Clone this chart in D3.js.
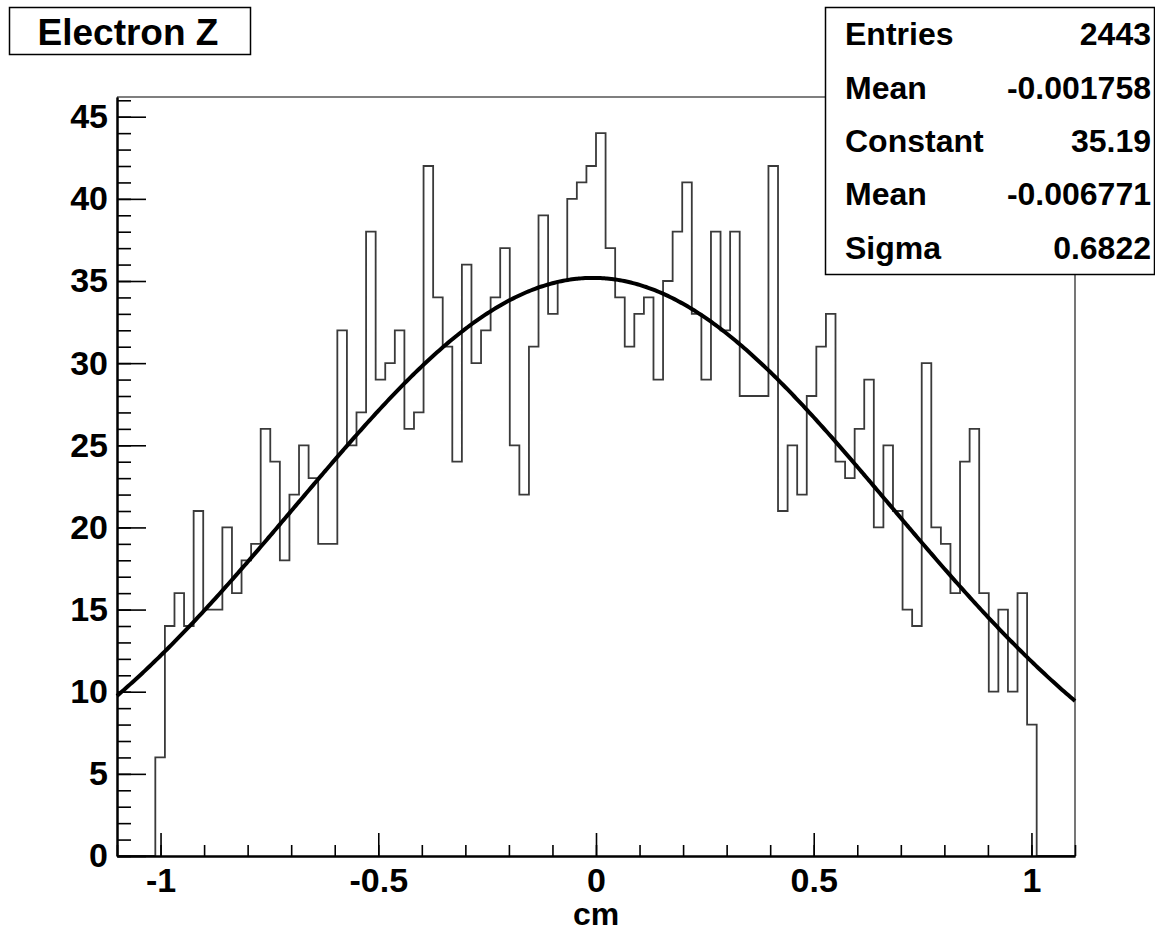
<!DOCTYPE html>
<html>
<head>
<meta charset="utf-8">
<script src="https://cdn.jsdelivr.net/npm/d3@7"></script>
<style>
  body { margin: 0; background: #fff; }
  svg text { font-family: "Liberation Sans", Arial, Helvetica, sans-serif; font-weight: bold; fill: #000; }
</style>
</head>
<body>
<div id="vis"></div>
<script>
// Electron Z histogram, 100 bins between -1.1 and 1.1 cm
const xLow = -1.1;
const xHigh = 1.1;
const binCounts = [
  0, 0, 0, 0, 6, 14, 16, 14, 21, 15,
  15, 20, 16, 18, 19, 26, 24, 18, 22, 25,
  23, 19, 19, 32, 25, 27, 38, 29, 30, 32,
  26, 27, 42, 34, 31, 24, 36, 30, 32, 34,
  37, 25, 22, 31, 39, 33, 35, 40, 41, 42,
  44, 37, 34, 31, 33, 34, 29, 35, 38, 41,
  33, 29, 38, 32, 38, 28, 28, 28, 42, 21,
  25, 22, 28, 31, 33, 24, 23, 26, 29, 20,
  25, 21, 15, 14, 30, 20, 19, 16, 24, 26,
  16, 10, 15, 10, 16, 8, 0, 0, 0, 0
];

// gaussian fit result (from the stats box)
const fitConstant = 35.19;
const fitMean = -0.006771;
const fitSigma = 0.6822;

const xTicks = [-1, -0.5, 0, 0.5, 1];
const xMinorTicks = [-1.1, -1, -0.9, -0.8, -0.7, -0.6, -0.5, -0.4, -0.3, -0.2, -0.1, 0,
  0.1, 0.2, 0.3, 0.4, 0.5, 0.6, 0.7, 0.8, 0.9, 1, 1.1];
const yTicks = [0, 5, 10, 15, 20, 25, 30, 35, 40, 45];
const yMinorTicks = d3.range(0, 47);

const statNames = ['Entries', 'Mean', 'Constant', 'Mean', 'Sigma'];
const statValues = ['2443', '-0.001758', '35.19', '-0.006771', '0.6822'];

const width = 1155;
const height = 931;
const plot = {left: 117, right: 1075, top: 97, bottom: 856};

const svg = d3.select('#vis').append('svg')
  .attr('width', width)
  .attr('height', height);

// scales
const xScale = d3.scaleLinear().domain([xLow, xHigh]).range([plot.left, plot.right]);
const yScale = d3.scaleLinear().domain([0, d3.max(binCounts) * 1.05]).range([plot.bottom, plot.top]);

// frame (top and right sides)
svg.append('path')
  .attr('d', `M${plot.left},${plot.top}H${plot.right}V${plot.bottom}`)
  .attr('fill', 'none')
  .attr('stroke', '#555')
  .attr('stroke-width', 1.6);

// histogram outline
const binWidth = (xHigh - xLow) / binCounts.length;
const steps = [[xLow, 0]];
binCounts.forEach((c, i) => {
  steps.push([xLow + i * binWidth, c]);
  steps.push([xLow + (i + 1) * binWidth, c]);
});
steps.push([xHigh, 0]);

const histLine = d3.line()
  .x(d => xScale(d[0]))
  .y(d => yScale(d[1]));

svg.append('path')
  .attr('d', histLine(steps))
  .attr('fill', 'none')
  .attr('stroke', '#3a3a3a')
  .attr('stroke-width', 1.8);

// fitted gaussian
const gaus = x => fitConstant * Math.exp(-0.5 * Math.pow((x - fitMean) / fitSigma, 2));
const fitX = d3.range(0, 441).map(i => xLow + i * 0.005);

const fitLine = d3.line()
  .x(d => xScale(d))
  .y(d => yScale(gaus(d)))
  .curve(d3.curveMonotoneX);

svg.append('path')
  .attr('d', fitLine(fitX))
  .attr('fill', 'none')
  .attr('stroke', '#000')
  .attr('stroke-width', 4);

// axes
const yMinor = svg.append('g')
  .attr('transform', `translate(${plot.left},0)`)
  .call(d3.axisLeft(yScale).tickValues(yMinorTicks).tickSize(-14).tickSizeOuter(0).tickFormat(''));

const yMajor = svg.append('g')
  .attr('transform', `translate(${plot.left},0)`)
  .call(d3.axisLeft(yScale).tickValues(yTicks).tickSize(-29).tickSizeOuter(0).tickPadding(9).tickFormat(d => String(d)));

const xMinor = svg.append('g')
  .attr('transform', `translate(0,${plot.bottom})`)
  .call(d3.axisBottom(xScale).tickValues(xMinorTicks).tickSize(-11).tickSizeOuter(0).tickFormat(''));

const xMajor = svg.append('g')
  .attr('transform', `translate(0,${plot.bottom})`)
  .call(d3.axisBottom(xScale).tickValues(xTicks).tickSize(-23).tickSizeOuter(0).tickPadding(12).tickFormat(d => String(d)));

[yMinor, yMajor, xMinor, xMajor].forEach(g => {
  g.attr('font-family', null).attr('font-size', 34);
  g.selectAll('.tick line').attr('stroke', '#000').attr('stroke-width', 1.6);
  g.select('.domain').attr('stroke', '#000').attr('stroke-width', 2);
});

svg.append('text')
  .attr('x', xScale(0))
  .attr('y', 925)
  .attr('text-anchor', 'middle')
  .attr('font-size', 32)
  .text('cm');

// title box
svg.append('rect')
  .attr('x', 9.5).attr('y', 7.5)
  .attr('width', 241).attr('height', 47)
  .attr('fill', '#fff')
  .attr('stroke', '#000')
  .attr('stroke-width', 1.5);

svg.append('text')
  .attr('x', 128)
  .attr('y', 45)
  .attr('text-anchor', 'middle')
  .attr('font-size', 37)
  .text('Electron Z');

// stats box
const statBox = {x: 825, y: 7, w: 329, h: 267};
svg.append('rect')
  .attr('x', statBox.x + 0.5).attr('y', statBox.y + 0.5)
  .attr('width', statBox.w).attr('height', statBox.h)
  .attr('fill', '#fff')
  .attr('stroke', '#000')
  .attr('stroke-width', 1.5);

const rowScale = d3.scaleBand()
  .domain(d3.range(statNames.length))
  .range([statBox.y, statBox.y + statBox.h]);

svg.selectAll('text.statName')
  .data(statNames)
  .enter()
  .append('text')
  .attr('class', 'statName')
  .attr('x', 845)
  .attr('y', (d, i) => rowScale(i) + rowScale.bandwidth() / 2)
  .attr('dy', '0.36em')
  .attr('font-size', 32)
  .text(d => d);

svg.selectAll('text.statValue')
  .data(statValues)
  .enter()
  .append('text')
  .attr('class', 'statValue')
  .attr('x', 1151)
  .attr('y', (d, i) => rowScale(i) + rowScale.bandwidth() / 2)
  .attr('dy', '0.36em')
  .attr('text-anchor', 'end')
  .attr('font-size', 32)
  .text(d => d);
</script>
</body>
</html>
